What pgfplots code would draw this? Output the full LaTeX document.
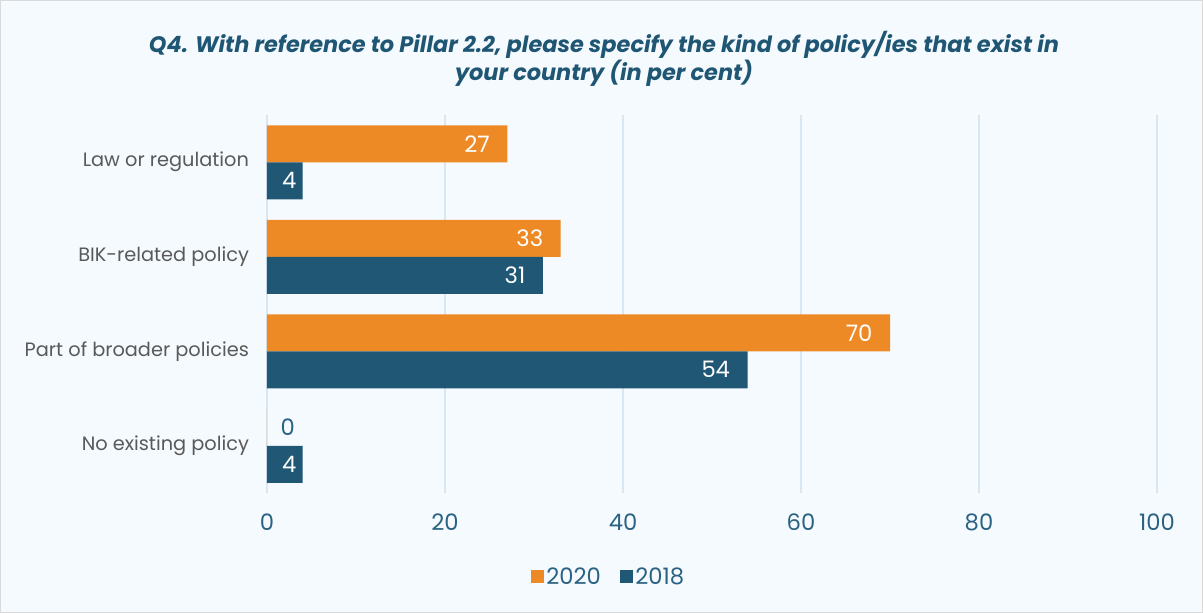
\documentclass[border=0pt]{standalone}
\usepackage{pgfplots}
\pgfplotsset{compat=1.18}
\usepackage{fontspec}
\setmainfont{Poppins}
\definecolor{orng}{HTML}{EE8A25}
\definecolor{navy}{HTML}{1F5774}
\definecolor{bg}{HTML}{F5FAFE}
\definecolor{grd}{HTML}{D8E7F1}
\definecolor{tickc}{HTML}{2A6283}
\definecolor{catc}{HTML}{595959}
\definecolor{titc}{HTML}{1F5673}
\begin{document}
\begin{tikzpicture}[x=0.75pt,y=0.75pt]
\fill[bg] (0,0) rectangle (1203,613);
\draw[black!15, line width=0.75pt] (0.5,0.5) rectangle (1202.5,612.5);
\node[font=\bfseries\itshape\fontsize{16.8}{21}\selectfont, text=titc, align=center] at (604,554) {Q4. With reference to Pillar 2.2, please specify the kind of policy/ies that exist in\\your country (in per cent)};
\begin{axis}[
  at={(200.25pt,90pt)}, anchor=south west,
  scale only axis, width=667.5pt, height=283.5pt,
  xbar=0pt, bar width=27.75pt,
  xmin=0, xmax=100, ymin=-0.5, ymax=3.5, y dir=reverse,
  ytick={0,1,2,3},
  yticklabels={Law or regulation, BIK-related policy, Part of broader policies, No existing policy},
  xtick={0,20,40,60,80,100},
  xmajorgrids, grid style={grd, line width=1.2pt},
  axis line style={draw=none},
  major tick length=0pt,
  /pgf/number format/assume math mode=true,
  yticklabel style={text=catc, font=\fontsize{14.5}{17}\selectfont, xshift=-10pt},
  xticklabel style={text=tickc, font=\fontsize{17}{20}\selectfont, yshift=-12pt},
  nodes near coords,
  every node near coord/.append style={inner sep=0pt, font=\fontsize{17}{20}\selectfont},
  coordinate style/.condition={x>=10}{anchor=east, xshift=-13pt, text=white},
  coordinate style/.condition={x>0 && x<10}{anchor=center, xshift=-10pt, text=white},
  coordinate style/.condition={x==0}{anchor=west, xshift=10pt, text=tickc},
  legend style={at={(0.384,-0.222)}, anchor=center, draw=none, fill=none,
    font=\fontsize{17}{20}\selectfont, text=tickc, legend columns=2,
    /tikz/every even column/.append style={column sep=12pt}},
  legend image code/.code={\fill (0pt,-4.9pt) rectangle (9.8pt,4.9pt);},
]
\addplot[fill=orng, draw=none, bar shift=13.875pt] coordinates {(27,0) (33,1) (70,2) (0,3)};
\addplot[fill=navy, draw=none, bar shift=-13.875pt] coordinates {(4,0) (31,1) (54,2) (4,3)};
\legend{2020,2018}
\end{axis}
\end{tikzpicture}
\end{document}
